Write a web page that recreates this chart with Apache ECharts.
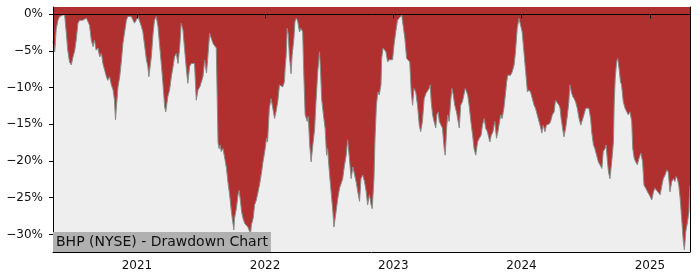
<!DOCTYPE html>
<html>
<head>
<meta charset="utf-8">
<script src="https://cdn.jsdelivr.net/npm/echarts@6/dist/echarts.min.js"></script>
<style>
html,body{margin:0;padding:0;background:#fff;}
#chart{width:700px;height:280px;}
</style>
</head>
<body>
<div id="chart"></div>
<script>
const chartTitle = 'BHP (NYSE) - Drawdown Chart';
const dates = [
'2020-05-07','2020-05-12','2020-05-16','2020-05-21','2020-05-26','2020-05-31','2020-06-09','2020-06-14','2020-06-18','2020-06-23',
'2020-06-28','2020-07-03','2020-07-08','2020-07-12','2020-07-17','2020-07-22','2020-07-27','2020-07-31','2020-08-05','2020-08-10',
'2020-08-14','2020-08-19','2020-08-24','2020-08-29','2020-09-02','2020-09-07','2020-09-12','2020-09-17','2020-09-22','2020-09-26',
'2020-10-01','2020-10-06','2020-10-10','2020-10-15','2020-10-20','2020-10-25','2020-10-29','2020-11-01','2020-11-03','2020-11-08',
'2020-11-13','2020-11-18','2020-11-22','2020-11-27','2020-12-02','2020-12-06','2020-12-11','2020-12-16','2020-12-21','2020-12-25',
'2020-12-30','2021-01-04','2021-01-09','2021-01-14','2021-01-18','2021-01-23','2021-01-28','2021-02-01','2021-02-04','2021-02-11',
'2021-02-16','2021-02-20','2021-02-25','2021-03-02','2021-03-07','2021-03-12','2021-03-16','2021-03-21','2021-03-24','2021-03-30',
'2021-04-04','2021-04-09','2021-04-14','2021-04-18','2021-04-23','2021-04-28','2021-05-03','2021-05-07','2021-05-12','2021-05-17',
'2021-05-22','2021-05-26','2021-05-31','2021-06-05','2021-06-10','2021-06-14','2021-06-19','2021-06-24','2021-06-29','2021-07-03',
'2021-07-08','2021-07-13','2021-07-18','2021-07-22','2021-07-27','2021-08-01','2021-08-06','2021-08-10','2021-08-15','2021-08-17',
'2021-08-20','2021-08-23','2021-08-26','2021-08-29','2021-09-03','2021-09-08','2021-09-13','2021-09-17','2021-09-22','2021-09-27',
'2021-10-02','2021-10-04','2021-10-06','2021-10-11','2021-10-16','2021-10-19','2021-10-23','2021-10-26','2021-10-30','2021-11-04',
'2021-11-09','2021-11-13','2021-11-18','2021-11-20','2021-11-23','2021-11-28','2021-12-02','2021-12-07','2021-12-12','2021-12-17',
'2021-12-22','2021-12-26','2021-12-31','2022-01-05','2022-01-08','2022-01-13','2022-01-18','2022-01-23','2022-01-28','2022-02-01',
'2022-02-06','2022-02-11','2022-02-15','2022-02-20','2022-02-25','2022-02-27','2022-03-02','2022-03-05','2022-03-08','2022-03-11',
'2022-03-16','2022-03-19','2022-03-24','2022-03-27','2022-03-31','2022-04-04','2022-04-09','2022-04-13','2022-04-18','2022-04-21',
'2022-04-25','2022-05-01','2022-05-04','2022-05-08','2022-05-12','2022-05-17','2022-05-22','2022-05-26','2022-05-31','2022-06-05',
'2022-06-08','2022-06-11','2022-06-16','2022-06-21','2022-06-25','2022-06-28','2022-07-03','2022-07-08','2022-07-13','2022-07-16',
'2022-07-22','2022-07-27','2022-08-01','2022-08-05','2022-08-10','2022-08-15','2022-08-20','2022-08-24','2022-08-29','2022-09-03',
'2022-09-08','2022-09-13','2022-09-17','2022-09-22','2022-09-27','2022-10-01','2022-10-06','2022-10-11','2022-10-16','2022-10-20',
'2022-10-25','2022-10-30','2022-11-02','2022-11-07','2022-11-10','2022-11-14','2022-11-18','2022-11-22','2022-11-27','2022-11-29',
'2022-12-03','2022-12-07','2022-12-11','2022-12-16','2022-12-20','2022-12-25','2022-12-30','2023-01-03','2023-01-08','2023-01-13',
'2023-01-18','2023-01-22','2023-01-25','2023-01-29','2023-02-03','2023-02-08','2023-02-12','2023-02-17','2023-02-21','2023-02-25',
'2023-03-01','2023-03-06','2023-03-11','2023-03-16','2023-03-20','2023-03-25','2023-03-30','2023-04-04','2023-04-09','2023-04-13',
'2023-04-16','2023-04-19','2023-04-23','2023-04-27','2023-05-02','2023-05-05','2023-05-09','2023-05-12','2023-05-16','2023-05-21',
'2023-05-26','2023-05-29','2023-06-02','2023-06-05','2023-06-09','2023-06-14','2023-06-17','2023-06-21','2023-06-25','2023-06-30',
'2023-07-03','2023-07-08','2023-07-12','2023-07-17','2023-07-22','2023-07-25','2023-07-29','2023-08-01','2023-08-05','2023-08-10',
'2023-08-15','2023-08-19','2023-08-24','2023-08-29','2023-09-03','2023-09-08','2023-09-12','2023-09-17','2023-09-21','2023-09-26',
'2023-09-30','2023-10-03','2023-10-07','2023-10-12','2023-10-17','2023-10-19','2023-10-22','2023-10-26','2023-10-29','2023-11-03',
'2023-11-07','2023-11-12','2023-11-17','2023-11-20','2023-11-23','2023-11-27','2023-12-01','2023-12-06','2023-12-11','2023-12-15',
'2023-12-20','2023-12-25','2023-12-30','2024-01-03','2024-01-08','2024-01-13','2024-01-18','2024-01-22','2024-01-27','2024-02-01',
'2024-02-06','2024-02-10','2024-02-15','2024-02-20','2024-02-25','2024-02-28','2024-03-03','2024-03-08','2024-03-12','2024-03-16',
'2024-03-21','2024-03-24','2024-03-29','2024-04-03','2024-04-07','2024-04-12','2024-04-17','2024-04-20','2024-04-23','2024-04-27',
'2024-05-01','2024-05-06','2024-05-11','2024-05-15','2024-05-18','2024-05-22','2024-05-26','2024-05-30','2024-06-03','2024-06-08',
'2024-06-13','2024-06-18','2024-06-22','2024-06-27','2024-07-02','2024-07-07','2024-07-11','2024-07-16','2024-07-19','2024-07-24',
'2024-07-28','2024-08-02','2024-08-07','2024-08-12','2024-08-17','2024-08-21','2024-08-26','2024-08-29','2024-09-02','2024-09-05',
'2024-09-09','2024-09-14','2024-09-19','2024-09-21','2024-09-24','2024-09-28','2024-10-01','2024-10-05','2024-10-09','2024-10-12',
'2024-10-17','2024-10-22','2024-10-27','2024-10-31','2024-11-05','2024-11-10','2024-11-13','2024-11-17','2024-11-21','2024-11-26',
'2024-12-01','2024-12-06','2024-12-09','2024-12-11','2024-12-15','2024-12-20','2024-12-25','2024-12-30','2025-01-06','2025-01-11',
'2025-01-15','2025-01-20','2025-01-25','2025-01-30','2025-02-04','2025-02-08','2025-02-13','2025-02-18','2025-02-22','2025-02-27',
'2025-03-04','2025-03-09','2025-03-13','2025-03-16','2025-03-20','2025-03-24','2025-03-28','2025-04-02','2025-04-06','2025-04-09',
'2025-04-13','2025-04-18','2025-04-22','2025-04-23','2025-04-25'
];
const drawdown = [
-3.7,-5.1,-2.1,-0.8,-0.3,-0.1,0,-2.6,-4.9,-6.5,
-6.9,-5.8,-4.9,-3.5,-1.2,-0.8,-1.0,-0.8,-0.8,-0.5,
-0.3,-1.5,-3.5,-4.4,-3.5,-4.9,-4.6,-5.8,-5.3,-6.7,
-7.6,-8.5,-9.0,-8.5,-9.6,-10.3,-11.7,-14.4,-13.0,-9.9,
-8.5,-6.2,-4.0,-2.4,-0.8,-0.3,-0.3,-0.3,-0.8,-1.2,
-0.8,-0.3,-0.1,-1.7,-2.4,-2.6,-6.2,-7.1,-8.5,-5.8,
-2.6,-0.8,-0.3,-1.7,-4.4,-7.1,-9.4,-12.6,-13.3,-11.2,
-10.3,-8.5,-7.1,-5.8,-5.3,-6.7,-4.4,-1.2,-2.1,-4.9,
-7.6,-9.4,-7.1,-6.7,-6.5,-6.7,-11.7,-10.3,-9.9,-9.9,
-8.5,-6.2,-8.0,-5.8,-2.6,-2.4,-4.0,-4.0,-4.6,-4.6,
-17.5,-18.3,-17.8,-18.7,-18.3,-19.6,-21.0,-22.8,-24.6,-26.9,
-28.7,-29.4,-27.8,-26.5,-24.6,-24.0,-25.5,-26.9,-27.8,-28.5,
-28.7,-29.0,-29.6,-30.2,-28.7,-27.8,-26.0,-25.3,-24.2,-23.0,
-21.5,-20.1,-18.7,-16.9,-17.4,-12.8,-11.5,-12.8,-14.2,-13.3,
-11.9,-9.6,-9.4,-9.9,-9.2,-7.4,-5.6,-1.9,-2.8,-5.6,
-8.1,-5.6,-3.3,-1.0,-0.5,-1.0,-2.4,-1.9,-2.4,-7.8,
-13.7,-14.6,-13.9,-17.8,-20.1,-17.8,-15.6,-11.9,-7.8,-5.1,
-7.8,-11.5,-13.7,-15.6,-19.2,-18.3,-21.5,-24.2,-26.9,-29.0,
-26.9,-25.1,-23.7,-23.5,-22.4,-20.6,-19.2,-17.1,-19.6,-22.4,
-20.8,-21.9,-22.8,-24.2,-25.5,-22.4,-21.9,-22.8,-24.2,-26.0,
-24.6,-26.0,-26.5,-22.4,-16.9,-12.4,-10.6,-11.0,-9.6,-6.0,
-4.6,-4.4,-5.1,-6.5,-6.2,-6.0,-6.2,-4.2,-2.4,-0.8,
-0.5,-0.3,-0.1,-1.5,-3.3,-6.0,-6.0,-6.5,-10.5,-12.4,
-10.1,-10.6,-12.4,-15.1,-16.0,-14.6,-11.5,-10.8,-10.6,-10.1,
-9.6,-11.9,-13.7,-14.6,-15.5,-13.7,-13.3,-14.6,-14.6,-15.5,
-18.3,-19.2,-15.5,-13.7,-14.6,-11.5,-10.1,-11.0,-12.4,-13.3,
-13.3,-15.5,-12.4,-11.9,-11.9,-10.1,-10.6,-11.0,-12.4,-14.6,
-16.5,-18.3,-19.2,-17.4,-16.9,-16.5,-15.1,-14.2,-15.5,-16.0,
-16.0,-17.4,-16.5,-16.0,-14.6,-15.5,-16.9,-16.0,-15.1,-13.7,
-14.2,-12.8,-10.6,-9.2,-8.3,-8.5,-8.3,-7.8,-6.9,-5.1,
-1.9,-0.55,-0.8,-2.4,-5.1,-7.8,-10.6,-10.3,-10.6,-11.5,
-12.4,-12.8,-13.7,-14.6,-15.5,-16.2,-15.1,-16.0,-15.1,-15.1,
-14.9,-14.6,-13.7,-13.3,-11.7,-11.9,-12.4,-12.8,-14.2,-15.5,
-16.7,-15.5,-13.7,-11.9,-9.6,-10.6,-11.2,-11.5,-11.9,-12.8,
-14.2,-15.1,-15.1,-13.7,-12.8,-12.8,-12.8,-14.2,-16.0,-17.8,
-18.3,-19.2,-20.1,-20.1,-21.0,-18.7,-18.3,-17.8,-20.1,-21.5,
-22.4,-20.1,-17.4,-12.4,-8.7,-6.5,-6.0,-7.4,-9.2,-9.6,
-11.9,-12.8,-13.3,-13.7,-13.3,-14.6,-18.3,-19.6,-20.1,-20.5,
-19.6,-18.9,-18.7,-20.1,-23.3,-23.7,-24.2,-24.6,-25.3,-24.2,
-23.7,-24.0,-24.0,-24.6,-23.3,-22.4,-21.9,-21.2,-21.5,-24.2,
-22.8,-22.4,-22.8,-22.1,-22.4,-23.3,-25.1,-28.3,-31.0,-32.1,
-29.6,-28.3,-26.9,-25.1,-23.3
];
const yTicks = [0, -5, -10, -15, -20, -25, -30];
const yearTicks = ['2021', '2022', '2023', '2024', '2025'];

function toTime(s) {
  const p = s.split('-');
  return new Date(+p[0], +p[1] - 1, +p[2]).getTime();
}

const chart = echarts.init(document.getElementById('chart'), null, {renderer: 'canvas'});
const font = 'DejaVu Sans';
const seriesData = dates.map((d, i) => [toTime(d), drawdown[i]]);
const yearValues = yearTicks.map(y => new Date(+y, 0, 1).getTime());
const frameLine = {show: true, lineStyle: {color: '#000', width: 1}};

chart.setOption({
  animation: false,
  backgroundColor: '#ffffff',
  title: {
    text: chartTitle,
    left: 53, bottom: 28,
    padding: [2, 3, 2, 3],
    backgroundColor: '#b0b0b0',
    z: 20,
    textStyle: {fontFamily: font, fontSize: 14, fontWeight: 'normal', color: '#111', lineHeight: 16}
  },
  grid: {left: 53, right: 10, top: 7, bottom: 28, show: true, backgroundColor: '#eeeeee', borderWidth: 0},
  xAxis: [{
    type: 'value',
    min: toTime(dates[0]), max: toTime(dates[dates.length - 1]),
    z: 10,
    axisLine: frameLine,
    axisTick: {show: true, length: 4, customValues: yearValues, lineStyle: {color: '#000'}},
    axisLabel: {customValues: yearValues, margin: 8, fontFamily: font, fontSize: 12, color: '#111',
      formatter: v => String(new Date(v).getFullYear())},
    splitLine: {show: false}
  }, {
    type: 'value', position: 'top', min: 0, max: 1, z: 10,
    axisLine: frameLine, axisTick: {show: false}, axisLabel: {show: false}, splitLine: {show: false}
  }],
  yAxis: [{
    type: 'value',
    min: -32.4, max: 1.0,
    z: 10,
    axisLine: frameLine,
    axisTick: {show: true, length: 4, customValues: yTicks, lineStyle: {color: '#000'}},
    axisLabel: {customValues: yTicks, margin: 10, fontFamily: font, fontSize: 12, color: '#111',
      formatter: v => (v < 0 ? '\u2212' + Math.abs(v) : String(v)) + '%'},
    splitLine: {show: false}
  }, {
    type: 'value', position: 'right', min: 0, max: 1, z: 10,
    axisLine: frameLine, axisTick: {show: false}, axisLabel: {show: false}, splitLine: {show: false}
  }],
  series: [{
    type: 'line',
    xAxisIndex: 0, yAxisIndex: 0,
    data: seriesData,
    showSymbol: false,
    symbol: 'none',
    lineStyle: {color: '#8a8a8a', width: 1},
    areaStyle: {color: '#b03030', opacity: 1, origin: 'end'},
    z: 2
  }]
});
</script>
</body>
</html>
